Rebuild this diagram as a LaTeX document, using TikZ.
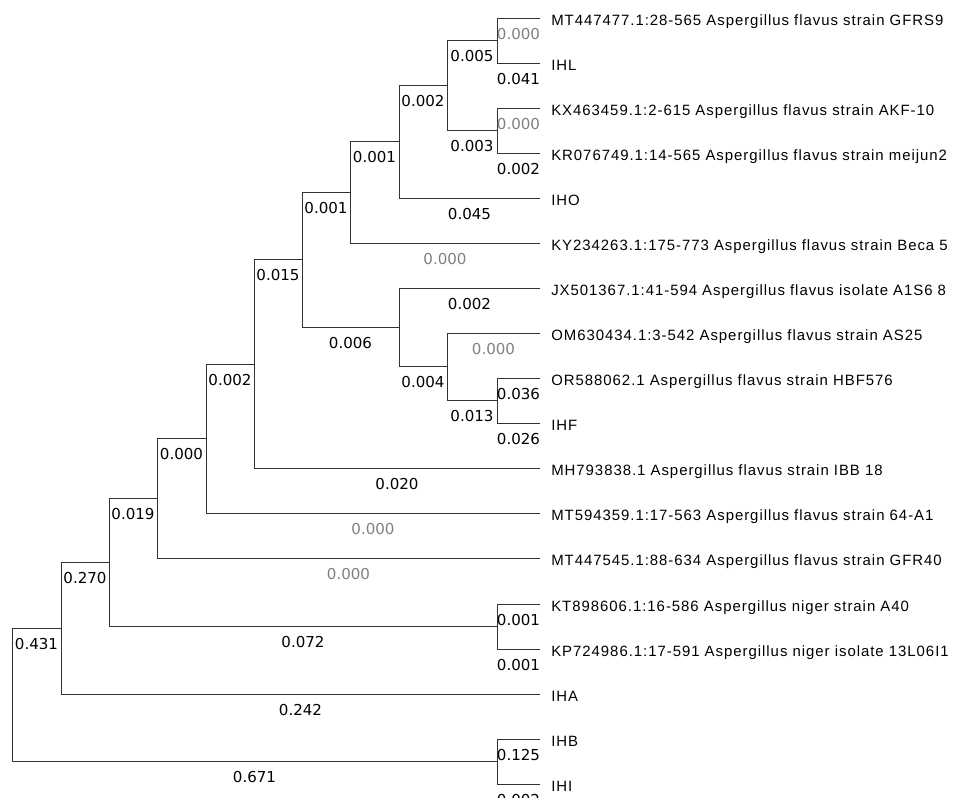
\documentclass[tikz,border=0pt]{standalone}
\usepackage{fontspec}
\setmainfont{Liberation Sans}[LetterSpace=6.5]
\newfontfamily\numfont{DejaVu Sans}
\tikzset{
    branch/.style={draw=black!80, line width=0.75pt},
    blen/.style={pos=0.75, below=7pt, inner sep=0pt, font=\numfont\fontsize{11.3}{12}\selectfont},
    zero/.style={blen, text=gray},
    taxon/.style={anchor=base west, inner sep=0pt, xshift=8.25pt, yshift=-5.5pt, font=\fontsize{11.2}{13}\selectfont}
}
\begin{document}
\begin{tikzpicture}[x=0.75pt, y=-0.75pt]
        \useasboundingbox (0,0) rectangle (968,797);
        % Internal nodes
        \coordinate (root) at (12,694.8);
        \coordinate (n1) at (61,628.2);
        \coordinate (n2) at (109,562.4);
        \coordinate (n3) at (157,498.25);
        \coordinate (n4) at (206,438.5);
        \coordinate (n5) at (254,364);
        \coordinate (n6) at (302,259.9);
        \coordinate (n7) at (350,192.4);
        \coordinate (n8) at (399,141.75);
        \coordinate (n9) at (447,85.5);
        \coordinate (n10) at (497,40.5);
        \coordinate (n11) at (497,130.5);
        \coordinate (n12) at (399,327.4);
        \coordinate (n13) at (447,366.75);
        \coordinate (n14) at (497,400.5);
        \coordinate (niger) at (497,626.5);
        \coordinate (n16) at (497,761.5);
        % Tips
        \coordinate (gfrs9) at (540,18);
        \coordinate (ihl) at (540,63);
        \coordinate (akf10) at (540,108);
        \coordinate (meijun2) at (540,153);
        \coordinate (iho) at (540,198);
        \coordinate (beca5) at (540,243);
        \coordinate (a1s68) at (540,288);
        \coordinate (as25) at (540,333);
        \coordinate (hbf576) at (540,378);
        \coordinate (ihf) at (540,423);
        \coordinate (ibb18) at (540,468);
        \coordinate (a164) at (540,513);
        \coordinate (gfr40) at (540,558);
        \coordinate (a40) at (540,604);
        \coordinate (l06) at (540,649);
        \coordinate (iha) at (540,694);
        \coordinate (ihb) at (540,739);
        \coordinate (ihi) at (540,784);

        % Branches with their lengths
        \draw[branch] (root) |- (n1) node[blen] {0.431};
        \draw[branch] (root) |- (n16) node[blen] {0.671};
        \draw[branch] (n1) |- (n2) node[blen] {0.270};
        \draw[branch] (n1) |- (iha) node[blen] {0.242};
        \draw[branch] (n2) |- (n3) node[blen] {0.019};
        \draw[branch] (n2) |- (niger) node[blen] {0.072};
        \draw[branch] (n3) |- (n4) node[blen] {0.000};
        \draw[branch] (n3) |- (gfr40) node[zero] {0.000};
        \draw[branch] (n4) |- (n5) node[blen] {0.002};
        \draw[branch] (n4) |- (a164) node[zero] {0.000};
        \draw[branch] (n5) |- (n6) node[blen] {0.015};
        \draw[branch] (n5) |- (ibb18) node[blen] {0.020};
        \draw[branch] (n6) |- (n7) node[blen] {0.001};
        \draw[branch] (n6) |- (n12) node[blen] {0.006};
        \draw[branch] (n7) |- (n8) node[blen] {0.001};
        \draw[branch] (n7) |- (beca5) node[zero] {0.000};
        \draw[branch] (n8) |- (n9) node[blen] {0.002};
        \draw[branch] (n8) |- (iho) node[blen] {0.045};
        \draw[branch] (n9) |- (n10) node[blen] {0.005};
        \draw[branch] (n9) |- (n11) node[blen] {0.003};
        \draw[branch] (n10) |- (gfrs9) node[zero] {0.000};
        \draw[branch] (n10) |- (ihl) node[blen] {0.041};
        \draw[branch] (n11) |- (akf10) node[zero] {0.000};
        \draw[branch] (n11) |- (meijun2) node[blen] {0.002};
        \draw[branch] (n12) |- (a1s68) node[blen] {0.002};
        \draw[branch] (n12) |- (n13) node[blen] {0.004};
        \draw[branch] (n13) |- (as25) node[zero] {0.000};
        \draw[branch] (n13) |- (n14) node[blen] {0.013};
        \draw[branch] (n14) |- (hbf576) node[blen] {0.036};
        \draw[branch] (n14) |- (ihf) node[blen] {0.026};
        \draw[branch] (niger) |- (a40) node[blen] {0.001};
        \draw[branch] (niger) |- (l06) node[blen] {0.001};
        \draw[branch] (n16) |- (ihb) node[blen] {0.125};
        \draw[branch] (n16) |- (ihi) node[blen] {0.002};

        % Labels
        \node at (gfrs9) [taxon] {MT447477.1:28-565 Aspergillus flavus strain GFRS9};
        \node at (ihl) [taxon] {IHL};
        \node at (akf10) [taxon] {KX463459.1:2-615 Aspergillus flavus strain AKF-10};
        \node at (meijun2) [taxon] {KR076749.1:14-565 Aspergillus flavus strain meijun2};
        \node at (iho) [taxon] {IHO};
        \node at (beca5) [taxon] {KY234263.1:175-773 Aspergillus flavus strain Beca 5};
        \node at (a1s68) [taxon] {JX501367.1:41-594 Aspergillus flavus isolate A1S6 8};
        \node at (as25) [taxon] {OM630434.1:3-542 Aspergillus flavus strain AS25};
        \node at (hbf576) [taxon] {OR588062.1 Aspergillus flavus strain HBF576};
        \node at (ihf) [taxon] {IHF};
        \node at (ibb18) [taxon] {MH793838.1 Aspergillus flavus strain IBB 18};
        \node at (a164) [taxon] {MT594359.1:17-563 Aspergillus flavus strain 64-A1};
        \node at (gfr40) [taxon] {MT447545.1:88-634 Aspergillus flavus strain GFR40};
        \node at (a40) [taxon] {KT898606.1:16-586 Aspergillus niger strain A40};
        \node at (l06) [taxon] {KP724986.1:17-591 Aspergillus niger isolate 13L06I1};
        \node at (iha) [taxon] {IHA};
        \node at (ihb) [taxon] {IHB};
        \node at (ihi) [taxon] {IHI};
\end{tikzpicture}
\end{document}
